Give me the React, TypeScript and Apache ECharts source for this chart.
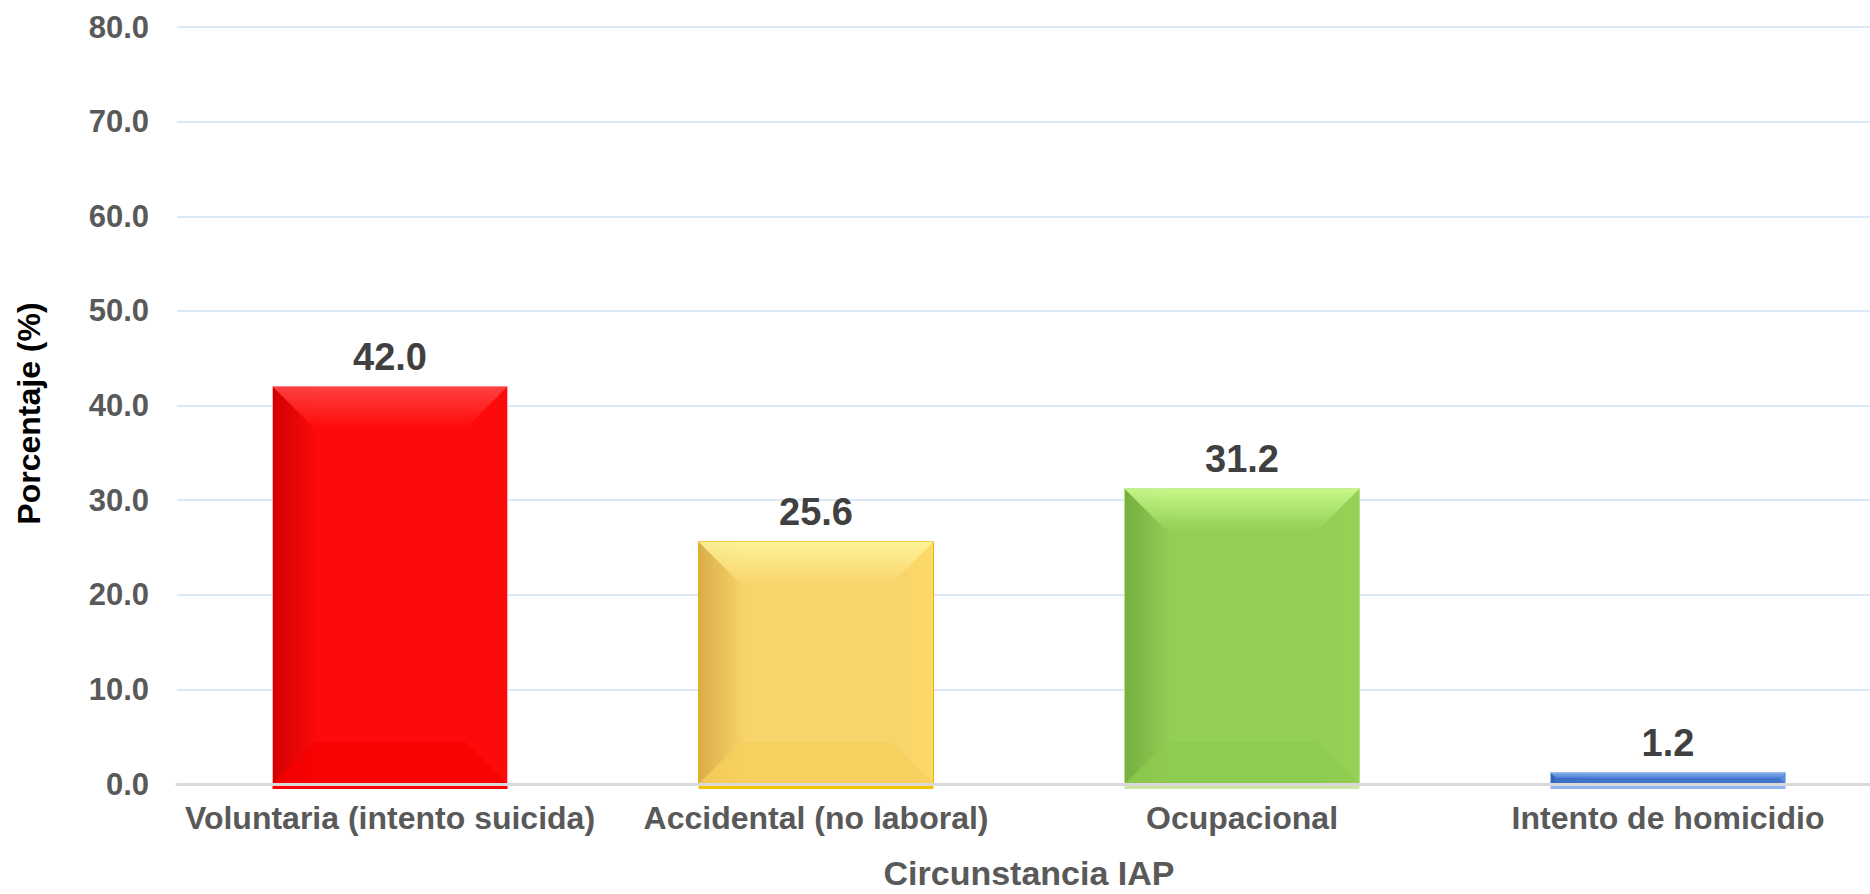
import React, { useEffect, useRef } from "react";
import * as echarts from "echarts";

const categories = [
  "Voluntaria (intento suicida)",
  "Accidental (no laboral)",
  "Ocupacional",
  "Intento de homicidio",
];
const values = [42.0, 25.6, 31.2, 1.2];
const yTicks = { min: 0, max: 80, interval: 10 };

const palettes = [
  { base: "#ff0a0a", left: "#d20000", right: "#ff0a0a", top: "#ff4a4a", bottom: "#f80000", edge: "#ffb0b0", strip: "#ff0000" },
  { base: "#f8d56b", left: "#d9ad48", right: "#fdd968", top: "#fff7a0", bottom: "#f6cf5e", edge: "#e8b400", strip: "#f3c400" },
  { base: "#93cf55", left: "#76ae40", right: "#96d257", top: "#d0ff92", bottom: "#8dcb4f", edge: "#b9e08a", strip: "#cde6a8" },
  { base: "#4a7fd4", left: "#3563b5", right: "#5a8ee0", top: "#8fb8f2", bottom: "#3f71c6", edge: "#9ab8e8", strip: "#8fb4ee" },
];

const FONT = "'Liberation Sans', Arial, Helvetica, sans-serif";
const BAR_W = 235;
const BEVEL = 42;

export default function App() {
  const ref = useRef<HTMLDivElement>(null);
  useEffect(() => {
    if (!ref.current) return;
    const chart = echarts.init(ref.current, null, { renderer: "svg" });
    const data = categories.map((_, i) => [i, values[i]]);
    chart.setOption({
      animation: false,
      backgroundColor: "#ffffff",
      grid: { left: 177, right: -11, top: 27, bottom: 110, containLabel: false, outerBoundsMode: "none" },
      xAxis: {
        type: "category",
        data: categories,
        z: 5,
        axisLine: { show: true, lineStyle: { color: "#d9d9d9", width: 3 } },
        axisTick: { show: false },
        axisLabel: { fontFamily: FONT, fontWeight: "bold", fontSize: 32, color: "#595959", margin: 18, interval: 0 },
        name: "Circunstancia IAP",
        nameLocation: "middle",
        nameGap: 74,
        nameTextStyle: { fontFamily: FONT, fontWeight: "bold", fontSize: 34, lineHeight: 30, color: "#595959" },
      },
      yAxis: {
        type: "value",
        min: yTicks.min,
        max: yTicks.max,
        interval: yTicks.interval,
        axisLine: { show: false },
        axisTick: { show: false },
        splitLine: { lineStyle: { color: "#dde8f5", width: 2 } },
        axisLabel: {
          fontFamily: FONT, fontWeight: "bold", fontSize: 31, color: "#595959", margin: 28,
          formatter: (v: number) => v.toFixed(1),
        },
        name: "Porcentaje (%)",
        nameLocation: "middle",
        nameGap: 132,
        nameRotate: 90,
        nameTextStyle: { fontFamily: FONT, fontWeight: "bold", fontSize: 32, color: "#000000", padding: [0, 16, 0, 0] },
      },
      series: [
        {
          type: "custom",
          data,
          encode: { x: 0, y: 1 },
          z: 2,
          renderItem: (params: any, api: any) => {
            const idx = api.value(0);
            const val = api.value(1);
            const top = api.coord([idx, val]);
            const base = api.coord([idx, 0]);
            const w = BAR_W;
            const x0 = top[0] - w / 2;
            const y0 = top[1];
            const h = base[1] - top[1];
            const b = Math.min(BEVEL, h / 2, w / 2);
            const c = palettes[params.dataIndex % palettes.length];
            const x1 = x0 + w;
            const y1 = y0 + h;
            const sideGrad = () =>
              new echarts.graphic.LinearGradient(0, 0, 1, 0, [
                { offset: 0, color: c.left },
                { offset: 0.2, color: c.base },
                { offset: 0.85, color: c.base },
                { offset: 1, color: c.right },
              ]);
            return {
              type: "group",
              children: [
                {
                  type: "rect",
                  shape: { x: x0, y: y1 + 1, width: w, height: 4 },
                  style: { fill: c.strip },
                },
                {
                  type: "rect",
                  shape: { x: x0, y: y0, width: w, height: h },
                  style: { fill: sideGrad(), stroke: c.edge, lineWidth: 1 },
                },
                {
                  type: "polygon",
                  shape: { points: [[x0, y0], [x1, y0], [x1 - b, y0 + b], [x0 + b, y0 + b]] },
                  style: {
                    fill: new echarts.graphic.LinearGradient(0, 0, 0, 1, [
                      { offset: 0, color: c.top },
                      { offset: 1, color: c.base },
                    ]),
                    opacity: 0.85,
                  },
                },
                {
                  type: "polygon",
                  shape: { points: [[x0, y1], [x1, y1], [x1 - b, y1 - b], [x0 + b, y1 - b]] },
                  style: { fill: c.bottom, opacity: 0.8 },
                },
                {
                  type: "text",
                  x: top[0],
                  y: y0 - 11,
                  style: {
                    text: Number(val).toFixed(1),
                    fontFamily: FONT,
                    fontWeight: "bold",
                    fontSize: 38,
                    fill: "#404040",
                    align: "center",
                    verticalAlign: "bottom",
                  },
                },
              ],
            };
          },
        },
      ],
    });
    return () => chart.dispose();
  }, []);
  return (
    <div
      ref={ref}
      style={{ position: "fixed", left: 0, top: 0, width: 1870, height: 894, background: "#fff" }}
    />
  );
}
